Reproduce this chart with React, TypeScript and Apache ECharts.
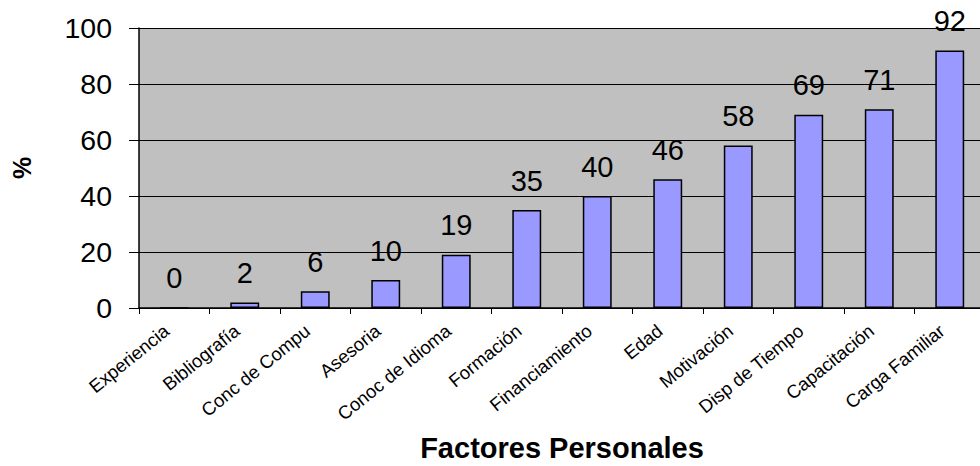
import React, { useEffect, useRef } from "react";
import * as echarts from "echarts";

const categories = [
  "Experiencia",
  "Bibliografía",
  "Conc de Compu",
  "Asesoria",
  "Conoc de Idioma",
  "Formación",
  "Financiamiento",
  "Edad",
  "Motivación",
  "Disp de Tiempo",
  "Capacitación",
  "Carga Familiar",
];
const values = [0, 2, 6, 10, 19, 35, 40, 46, 58, 69, 71, 92];
const yTicks = { min: 0, max: 100, interval: 20 };
const xTitle = "Factores Personales";
const yTitle = "%";

export default function App() {
  const ref = useRef<HTMLDivElement>(null);
  useEffect(() => {
    const chart = echarts.init(ref.current!, null, { renderer: "svg" });
    const font = "'Liberation Sans', Arial, sans-serif";
    chart.setOption({
      animation: false,
      backgroundColor: "#ffffff",
      textStyle: { fontFamily: font },
      grid: {
        left: 139,
        top: 28,
        width: 846,
        height: 280,
        containLabel: false,
        outerBoundsMode: "none",
        show: true,
        backgroundColor: "#C0C0C0",
        borderWidth: 0,
      },
      xAxis: {
        type: "category",
        data: categories,
        boundaryGap: true,
        name: xTitle,
        nameLocation: "middle",
        nameGap: 125,
        nameTextStyle: { fontSize: 29, fontWeight: "bold", color: "#000", fontFamily: font },
        axisLine: { show: true, lineStyle: { color: "#000", width: 1.5 } },
        axisTick: { show: true, alignWithLabel: false, length: 6, lineStyle: { color: "#000" } },
        axisLabel: {
          interval: 0,
          rotate: 39,
          fontSize: 18.5,
          color: "#000",
          margin: 14,
          padding: [0, 10, 0, 0],
          fontFamily: font,
        },
      },
      yAxis: {
        type: "value",
        min: yTicks.min,
        max: yTicks.max,
        interval: yTicks.interval,
        name: yTitle,
        nameLocation: "middle",
        nameRotate: 90,
        nameGap: 105,
        nameTextStyle: { fontSize: 25, fontWeight: "bold", color: "#000", fontFamily: font },
        axisLine: { show: true, lineStyle: { color: "#000", width: 1.5 } },
        axisTick: { show: true, inside: false, length: 10, lineStyle: { color: "#000" } },
        axisLabel: { fontSize: 28.5, color: "#000", margin: 27, fontFamily: font },
        splitLine: { show: true, lineStyle: { color: "#000", width: 1 } },
      },
      series: [
        {
          type: "bar",
          data: values,
          barWidth: "41%",
          itemStyle: { color: "#9999FF", borderColor: "#000", borderWidth: 1.5 },
          label: { show: true, position: "top", distance: 15, fontSize: 29, color: "#000", fontFamily: font },
        },
      ],
    });
    return () => chart.dispose();
  }, []);
  return <div ref={ref} style={{ position: "absolute", left: 0, top: 0, width: 980, height: 466 }} />;
}
